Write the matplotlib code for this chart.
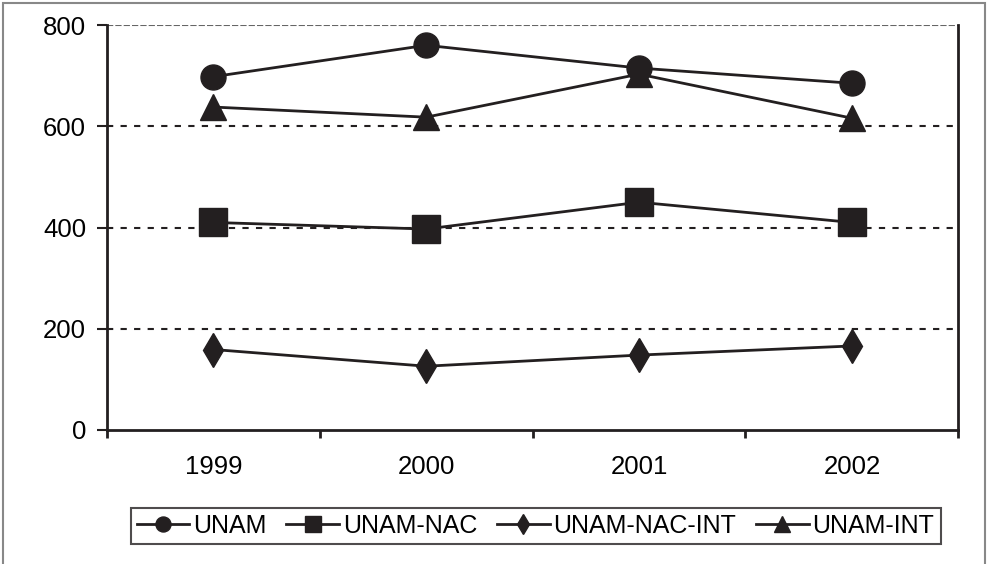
import matplotlib
import matplotlib.pyplot as plt
from matplotlib.patches import Rectangle

matplotlib.use('Agg')

plt.rcParams['font.family'] = ['Liberation Sans', 'DejaVu Sans']

# datos
years = ['1999', '2000', '2001', '2002']
unam = [698, 760, 715, 685]
unam_nac = [410, 397, 450, 410]
unam_nac_int = [159, 126, 148, 166]
unam_int = [638, 618, 703, 616]

ink = '#231f20'

fig = plt.figure(figsize=(9.9, 5.64), dpi=100)
ax = fig.add_axes([0.108, 0.2376, 0.86, 0.718])

x = range(len(years))
ax.plot(x, unam, color=ink, lw=2, marker='o', ms=18, label='UNAM')
ax.plot(x, unam_nac, color=ink, lw=2, marker='s', ms=20, label='UNAM-NAC')
ax.plot(x, unam_nac_int, color=ink, lw=2, marker='d', ms=17, label='UNAM-NAC-INT')
ax.plot(x, unam_int, color=ink, lw=2, marker='^', ms=19, label='UNAM-INT')

ax.set_xlim(-0.5, 3.5)
ax.set_ylim(0, 800)
ax.set_yticks([0, 200, 400, 600, 800])
ax.set_xticks(list(x))
ax.set_xticklabels(years)
ax.set_xticks([-0.5, 0.5, 1.5, 2.5, 3.5], minor=True)
ax.tick_params(axis='x', which='major', length=0, pad=18, labelsize=18.5)
ax.tick_params(axis='x', which='minor', length=6, width=2, color=ink)
ax.tick_params(axis='y', length=7, width=1.5, pad=8, labelsize=18.5, color=ink)

for v in [200, 400, 600]:
    ax.axhline(v, color=ink, lw=1.5, ls=(0, (3, 3.5)), zorder=0)
ax.axhline(800, color='#666666', lw=1.5, ls=(0, (3, 1)), zorder=0)

ax.spines['top'].set_visible(False)
for s in ['left', 'bottom', 'right']:
    ax.spines[s].set_color(ink)
    ax.spines[s].set_linewidth(2)

# leyenda
leg = fig.legend(loc='center', bbox_to_anchor=(0.541, 0.067), ncol=4,
                 fontsize=18, frameon=True, fancybox=False, edgecolor=ink,
                 handlelength=2.1, handletextpad=0.15, columnspacing=0.8,
                 markerscale=0.6, borderpad=0.25)
leg.get_frame().set_linewidth(1.5)

# marco exterior
fig.patches.append(Rectangle((3 / 990, -0.05), 982 / 990, 1.05 - 3 / 564,
                             transform=fig.transFigure, fill=False,
                             edgecolor='#888888', lw=1.5))

fig.savefig('out.png', dpi=100)
